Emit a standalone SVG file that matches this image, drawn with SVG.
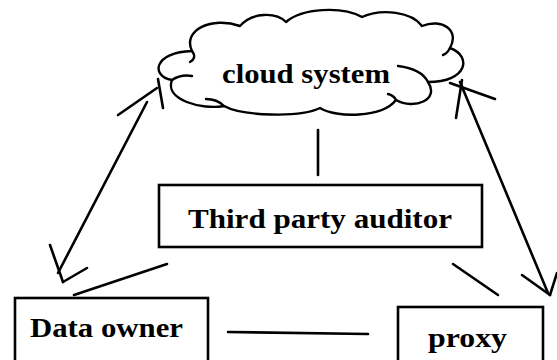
<svg xmlns="http://www.w3.org/2000/svg" width="557" height="360" viewBox="0 0 557 360">
<style>
.box{fill:#fff;stroke:#000;stroke-width:2.6}
.ln{fill:none;stroke:#000;stroke-width:2.6;stroke-linecap:round}
.cl{fill:#fff;stroke:#000;stroke-width:2.4;stroke-linejoin:round}
.cs{fill:none;stroke:#000;stroke-width:2.4;stroke-linecap:round}
.t{font-family:"Liberation Serif","Times New Roman",serif;font-weight:bold;font-size:27px;fill:#000}
</style>
<rect width="557" height="360" fill="#fff"/>
<g id="connectors">
<line class="ln" x1="318" y1="130" x2="318" y2="175"/>
<line class="ln" x1="167" y1="264" x2="74" y2="295"/>
<line class="ln" x1="453" y1="264" x2="498" y2="295"/>
<line class="ln" x1="228" y1="332" x2="368" y2="334"/>
<line class="ln" x1="147" y1="102" x2="58" y2="273"/>
<line class="ln" x1="118" y1="115" x2="157" y2="88"/>
<line class="ln" x1="158" y1="79" x2="163" y2="108"/>
<line class="ln" x1="50" y1="245" x2="63" y2="282"/>
<line class="ln" x1="63" y1="282" x2="87" y2="268"/>
<line class="ln" x1="460" y1="82" x2="548" y2="293"/>
<line class="ln" x1="456" y1="118" x2="462" y2="80"/>
<line class="ln" x1="450" y1="83" x2="495" y2="99"/>
<line class="ln" x1="522" y1="275" x2="550" y2="295"/>
<line class="ln" x1="550" y1="295" x2="557" y2="273"/>
</g>
<g id="cloud">
<path class="cl" d="M 192,51 C 182,30 212,16 240,26 C 252,12 276,12 286,22 C 302,8 342,6 362,17 C 382,8 412,12 422,26 C 442,18 460,30 450,48 C 472,56 468,82 428,82 C 440,100 414,110 396,100 C 382,118 336,118 320,108 C 300,118 242,116 224,106 C 202,110 164,100 172,80 C 150,76 154,52 192,51 Z"/>
<path class="cs" d="M 192,51 C 196,56 194,60 190,62"/>
<path class="cs" d="M 172,80 C 178,76 186,75 192,76"/>
<path class="cs" d="M 224,106 C 220,102 214,99 206,99"/>
<path class="cs" d="M 398,66 C 414,68 424,74 428,82"/>
<path class="cs" d="M 450,48 C 448,52 446,54 443,55"/>
<path class="cs" d="M 396,100 C 394,96 392,95 388,94"/>
<text class="t" x="306" y="83" text-anchor="middle" textLength="168" lengthAdjust="spacingAndGlyphs">cloud system</text>
</g>
<g id="tpa">
<rect class="box" x="159" y="185" width="323" height="62"/>
<text class="t" x="320" y="228" text-anchor="middle" textLength="264" lengthAdjust="spacingAndGlyphs">Third party auditor</text>
</g>
<g id="owner">
<rect class="box" x="15" y="298" width="193" height="70"/>
<text class="t" x="30" y="337" textLength="153" lengthAdjust="spacingAndGlyphs">Data owner</text>
</g>
<g id="proxy">
<rect class="box" x="398" y="307" width="145" height="70"/>
<text class="t" x="428" y="347" textLength="79" lengthAdjust="spacingAndGlyphs">proxy</text>
</g>
</svg>
